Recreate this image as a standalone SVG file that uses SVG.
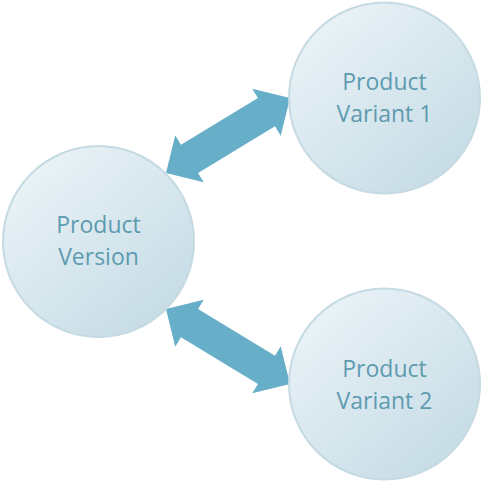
<svg xmlns="http://www.w3.org/2000/svg" width="483" height="483" viewBox="0 0 483 483">
  <defs>
    <linearGradient id="circleFill" x1="0.15" y1="0.1" x2="0.85" y2="0.9">
      <stop offset="0" stop-color="#e9f2f7"/>
      <stop offset="1" stop-color="#c6dce5"/>
    </linearGradient>
    <style>
      .node circle { fill: url(#circleFill); stroke: #c5dae3; stroke-width: 2; }
      .node text { font-family: "Open Sans", "Liberation Sans", sans-serif; font-size: 23px; fill: #5e9bb0; text-anchor: middle; }
      .arrow { fill: #67aec8; }
    </style>
  </defs>
  <rect width="483" height="483" fill="#ffffff"/>
  <g id="connectors">
    <polygon class="arrow" transform="translate(228,135.5) rotate(-31.2)" points="-72.5,0 -45,-27.5 -45,-16.5 45,-16.5 45,-27.5 72.5,0 45,27.5 45,16.5 -45,16.5 -45,27.5"/>
    <polygon class="arrow" transform="translate(228,346.5) rotate(31.2)" points="-72.5,0 -45,-27.5 -45,-16.5 45,-16.5 45,-27.5 72.5,0 45,27.5 45,16.5 -45,16.5 -45,27.5"/>
  </g>
  <g id="product-version" class="node">
    <circle cx="98.5" cy="241.5" r="95.5"/>
    <text x="98.5" y="233">Product</text>
    <text x="98.5" y="265">Version</text>
  </g>
  <g id="product-variant-1" class="node">
    <circle cx="384.5" cy="98" r="95.5"/>
    <text x="384.5" y="90">Product</text>
    <text x="384.5" y="122">Variant 1</text>
  </g>
  <g id="product-variant-2" class="node">
    <circle cx="384.5" cy="384" r="95.5"/>
    <text x="384.5" y="377">Product</text>
    <text x="384.5" y="409">Variant 2</text>
  </g>
</svg>
